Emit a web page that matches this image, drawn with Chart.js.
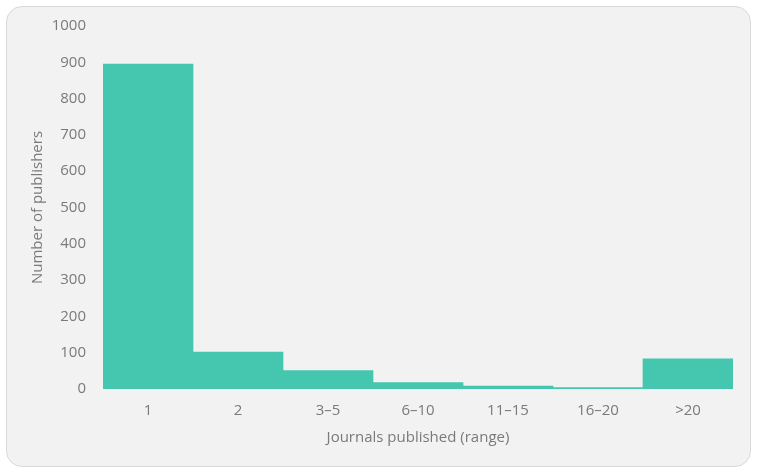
<!DOCTYPE html>
<html>
<head>
<meta charset="utf-8">
<script src="https://cdn.jsdelivr.net/npm/chart.js@4.4.0/dist/chart.umd.min.js"></script>
<style>
  html, body { margin: 0; padding: 0; background: #ffffff; }
  #card {
    position: absolute; left: 6px; top: 6px; width: 743px; height: 459px;
    background: #f2f2f2; border: 1px solid #d9d9d9; border-radius: 16px;
  }
  #wrap { position: absolute; left: 0; top: 0; width: 757px; height: 473px; }
</style>
</head>
<body>
<div id="card"></div>
<div id="wrap"><canvas id="chart" width="757" height="473"></canvas></div>
<script>
// Publishers by number of journals published
const ranges = ['1', '2', '3\u20135', '6\u201310', '11\u201315', '16\u201320', '>20'];
const publishers = [895, 102, 51, 18, 8, 4, 83];
const yTicks = [0, 100, 200, 300, 400, 500, 600, 700, 800, 900, 1000];

const textColor = '#7a7a7a';
const fontFamily = '"Open Sans", sans-serif';

new Chart(document.getElementById('chart'), {
    type: 'bar',
    data: {
        labels: ranges,
        datasets: [{
            label: 'Number of publishers',
            data: publishers,
            backgroundColor: '#45c6ae',
            borderWidth: 0,
            categoryPercentage: 1.0,
            barPercentage: 1.0
        }]
    },
    options: {
        responsive: false,
        animation: false,
        layout: { padding: { left: 20, right: 24, top: 16, bottom: 26 } },
        plugins: {
            legend: { display: false },
            tooltip: { enabled: false }
        },
        scales: {
            x: {
                grid: { display: false, drawTicks: false },
                border: { display: false },
                afterFit: axis => { axis.height = 58; },
                ticks: { color: textColor, font: { family: fontFamily, size: 15 }, padding: 13 },
                title: {
                    display: true, text: 'Journals published (range)',
                    color: textColor, font: { family: fontFamily, size: 15 }, padding: { top: 2, bottom: 0 }
                }
            },
            y: {
                min: 0, max: 1000,
                afterBuildTicks: axis => { axis.ticks = yTicks.map(v => ({ value: v })); },
                afterFit: axis => { axis.width = 83; },
                grid: { display: false, drawTicks: false },
                border: { display: false },
                ticks: {
                    color: textColor, font: { family: fontFamily, size: 15 }, padding: 17,
                    callback: v => String(v)
                },
                title: {
                    display: true, text: 'Number of publishers',
                    color: textColor, font: { family: fontFamily, size: 15 }, padding: { top: 9, bottom: 0 }
                }
            }
        }
    }
});
</script>
</body>
</html>
